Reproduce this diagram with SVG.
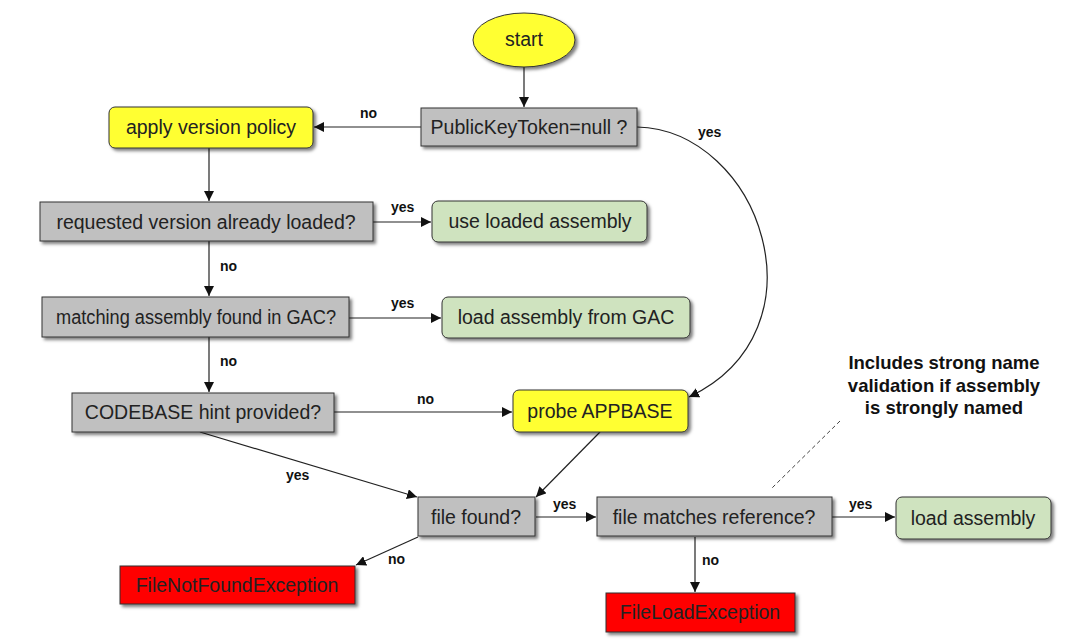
<svg xmlns="http://www.w3.org/2000/svg" width="1083" height="641" viewBox="0 0 1083 641">
<style>
.box{stroke:#333;stroke-width:1;filter:url(#sh)}
.gray{fill:#c0c0c0}
.yel{fill:#ffff33}
.grn{fill:#cfe3bf}
.red{fill:#ff0000}
.t{font-family:"Liberation Sans",Arial,sans-serif;font-size:19.5px;fill:#222;text-anchor:middle;dominant-baseline:central}
.lbl{font-family:"Liberation Sans",Arial,sans-serif;font-size:14px;font-weight:bold;fill:#111}
.note{font-family:"Liberation Sans",Arial,sans-serif;font-size:18.5px;font-weight:bold;fill:#111;text-anchor:middle}
.ca{stroke:#222;stroke-width:1.2;fill:none;marker-end:url(#ah)}
</style>
<defs>
<filter id="sh" x="-10%" y="-20%" width="130%" height="150%">
<feDropShadow dx="2.5" dy="2.5" stdDeviation="1.5" flood-color="#000" flood-opacity="0.5"/>
</filter>
<marker id="ah" viewBox="0 0 10 10" refX="10" refY="5" markerWidth="10" markerHeight="10" markerUnits="userSpaceOnUse" orient="auto">
<path d="M0,0 L10,5 L0,10 z" fill="#111"/>
</marker>
</defs>
<rect width="1083" height="641" fill="#fff"/>

<g id="connectors">
<path class="ca" d="M524,67 L524,107"/>
<path class="ca" d="M421,127 L314,127"/>
<path class="ca" d="M637,127 C760,130 830,330 689,397"/>
<path class="ca" d="M209,148 L209,201"/>
<path class="ca" d="M373,222 L431,222"/>
<path class="ca" d="M209,241 L209,296"/>
<path class="ca" d="M349,318 L441,318"/>
<path class="ca" d="M209,337 L209,392"/>
<path class="ca" d="M334,412 L512,412"/>
<path class="ca" d="M200,432 L417,497"/>
<path class="ca" d="M600,432 L536,497"/>
<path class="ca" d="M536,517 L596,517"/>
<path class="ca" d="M832,517 L895,517"/>
<path class="ca" d="M418,537 L356,565"/>
<path class="ca" d="M695,537 L695,592"/>
<path d="M840,421 L772,488" stroke="#444" stroke-width="1" stroke-dasharray="4,3" fill="none"/>
<text class="lbl" x="360" y="118">no</text>
<text class="lbl" x="698" y="137">yes</text>
<text class="lbl" x="391" y="212">yes</text>
<text class="lbl" x="220" y="271">no</text>
<text class="lbl" x="391" y="308">yes</text>
<text class="lbl" x="220" y="366">no</text>
<text class="lbl" x="417" y="404">no</text>
<text class="lbl" x="286" y="480">yes</text>
<text class="lbl" x="553" y="509">yes</text>
<text class="lbl" x="849" y="509">yes</text>
<text class="lbl" x="388" y="564">no</text>
<text class="lbl" x="702" y="565">no</text>
</g>

<g id="start">
<ellipse cx="524" cy="40" rx="51" ry="27" class="box yel"/>
<text class="t" x="524" y="39">start</text>
</g>
<g id="pkt">
<rect x="421" y="108" width="216" height="38" class="box gray"/>
<text class="t" x="529" y="127">PublicKeyToken=null ?</text>
</g>
<g id="policy">
<rect x="109" y="107" width="204" height="41" rx="6" class="box yel"/>
<text class="t" x="211" y="127">apply version policy</text>
</g>
<g id="requested">
<rect x="40" y="202" width="333" height="39" class="box gray"/>
<text class="t" x="206" y="222">requested version already loaded?</text>
</g>
<g id="useloaded">
<rect x="432" y="201" width="215" height="41" rx="6" class="box grn"/>
<text class="t" x="540" y="221">use loaded assembly</text>
</g>
<g id="gac">
<rect x="42" y="297" width="307" height="40" class="box gray"/>
<text class="t" x="196" y="317" textLength="280" lengthAdjust="spacingAndGlyphs">matching assembly found in GAC?</text>
</g>
<g id="loadgac">
<rect x="442" y="297" width="248" height="41" rx="6" class="box grn"/>
<text class="t" x="566" y="317">load assembly from GAC</text>
</g>
<g id="codebase">
<rect x="72" y="393" width="262" height="39" class="box gray"/>
<text class="t" x="203" y="412">CODEBASE hint provided?</text>
</g>
<g id="appbase">
<rect x="513" y="390" width="175" height="42" rx="6" class="box yel"/>
<text class="t" x="600" y="411">probe APPBASE</text>
</g>
<g id="filefound">
<rect x="418" y="497" width="117" height="39" class="box gray"/>
<text class="t" x="476" y="517">file found?</text>
</g>
<g id="filematches">
<rect x="597" y="497" width="235" height="39" class="box gray"/>
<text class="t" x="714" y="517">file matches reference?</text>
</g>
<g id="loadassembly">
<rect x="896" y="497" width="155" height="42" rx="6" class="box grn"/>
<text class="t" x="973" y="518">load assembly</text>
</g>
<g id="notfound">
<rect x="120" y="566" width="235" height="38" class="box red"/>
<text class="t" x="237" y="585">FileNotFoundException</text>
</g>
<g id="loadexc">
<rect x="606" y="593" width="189" height="39" class="box red"/>
<text class="t" x="700" y="612">FileLoadException</text>
</g>
<g id="note">
<text class="note" x="944" y="369">Includes strong name</text>
<text class="note" x="944" y="392">validation if assembly</text>
<text class="note" x="944" y="414">is strongly named</text>
</g>
</svg>
